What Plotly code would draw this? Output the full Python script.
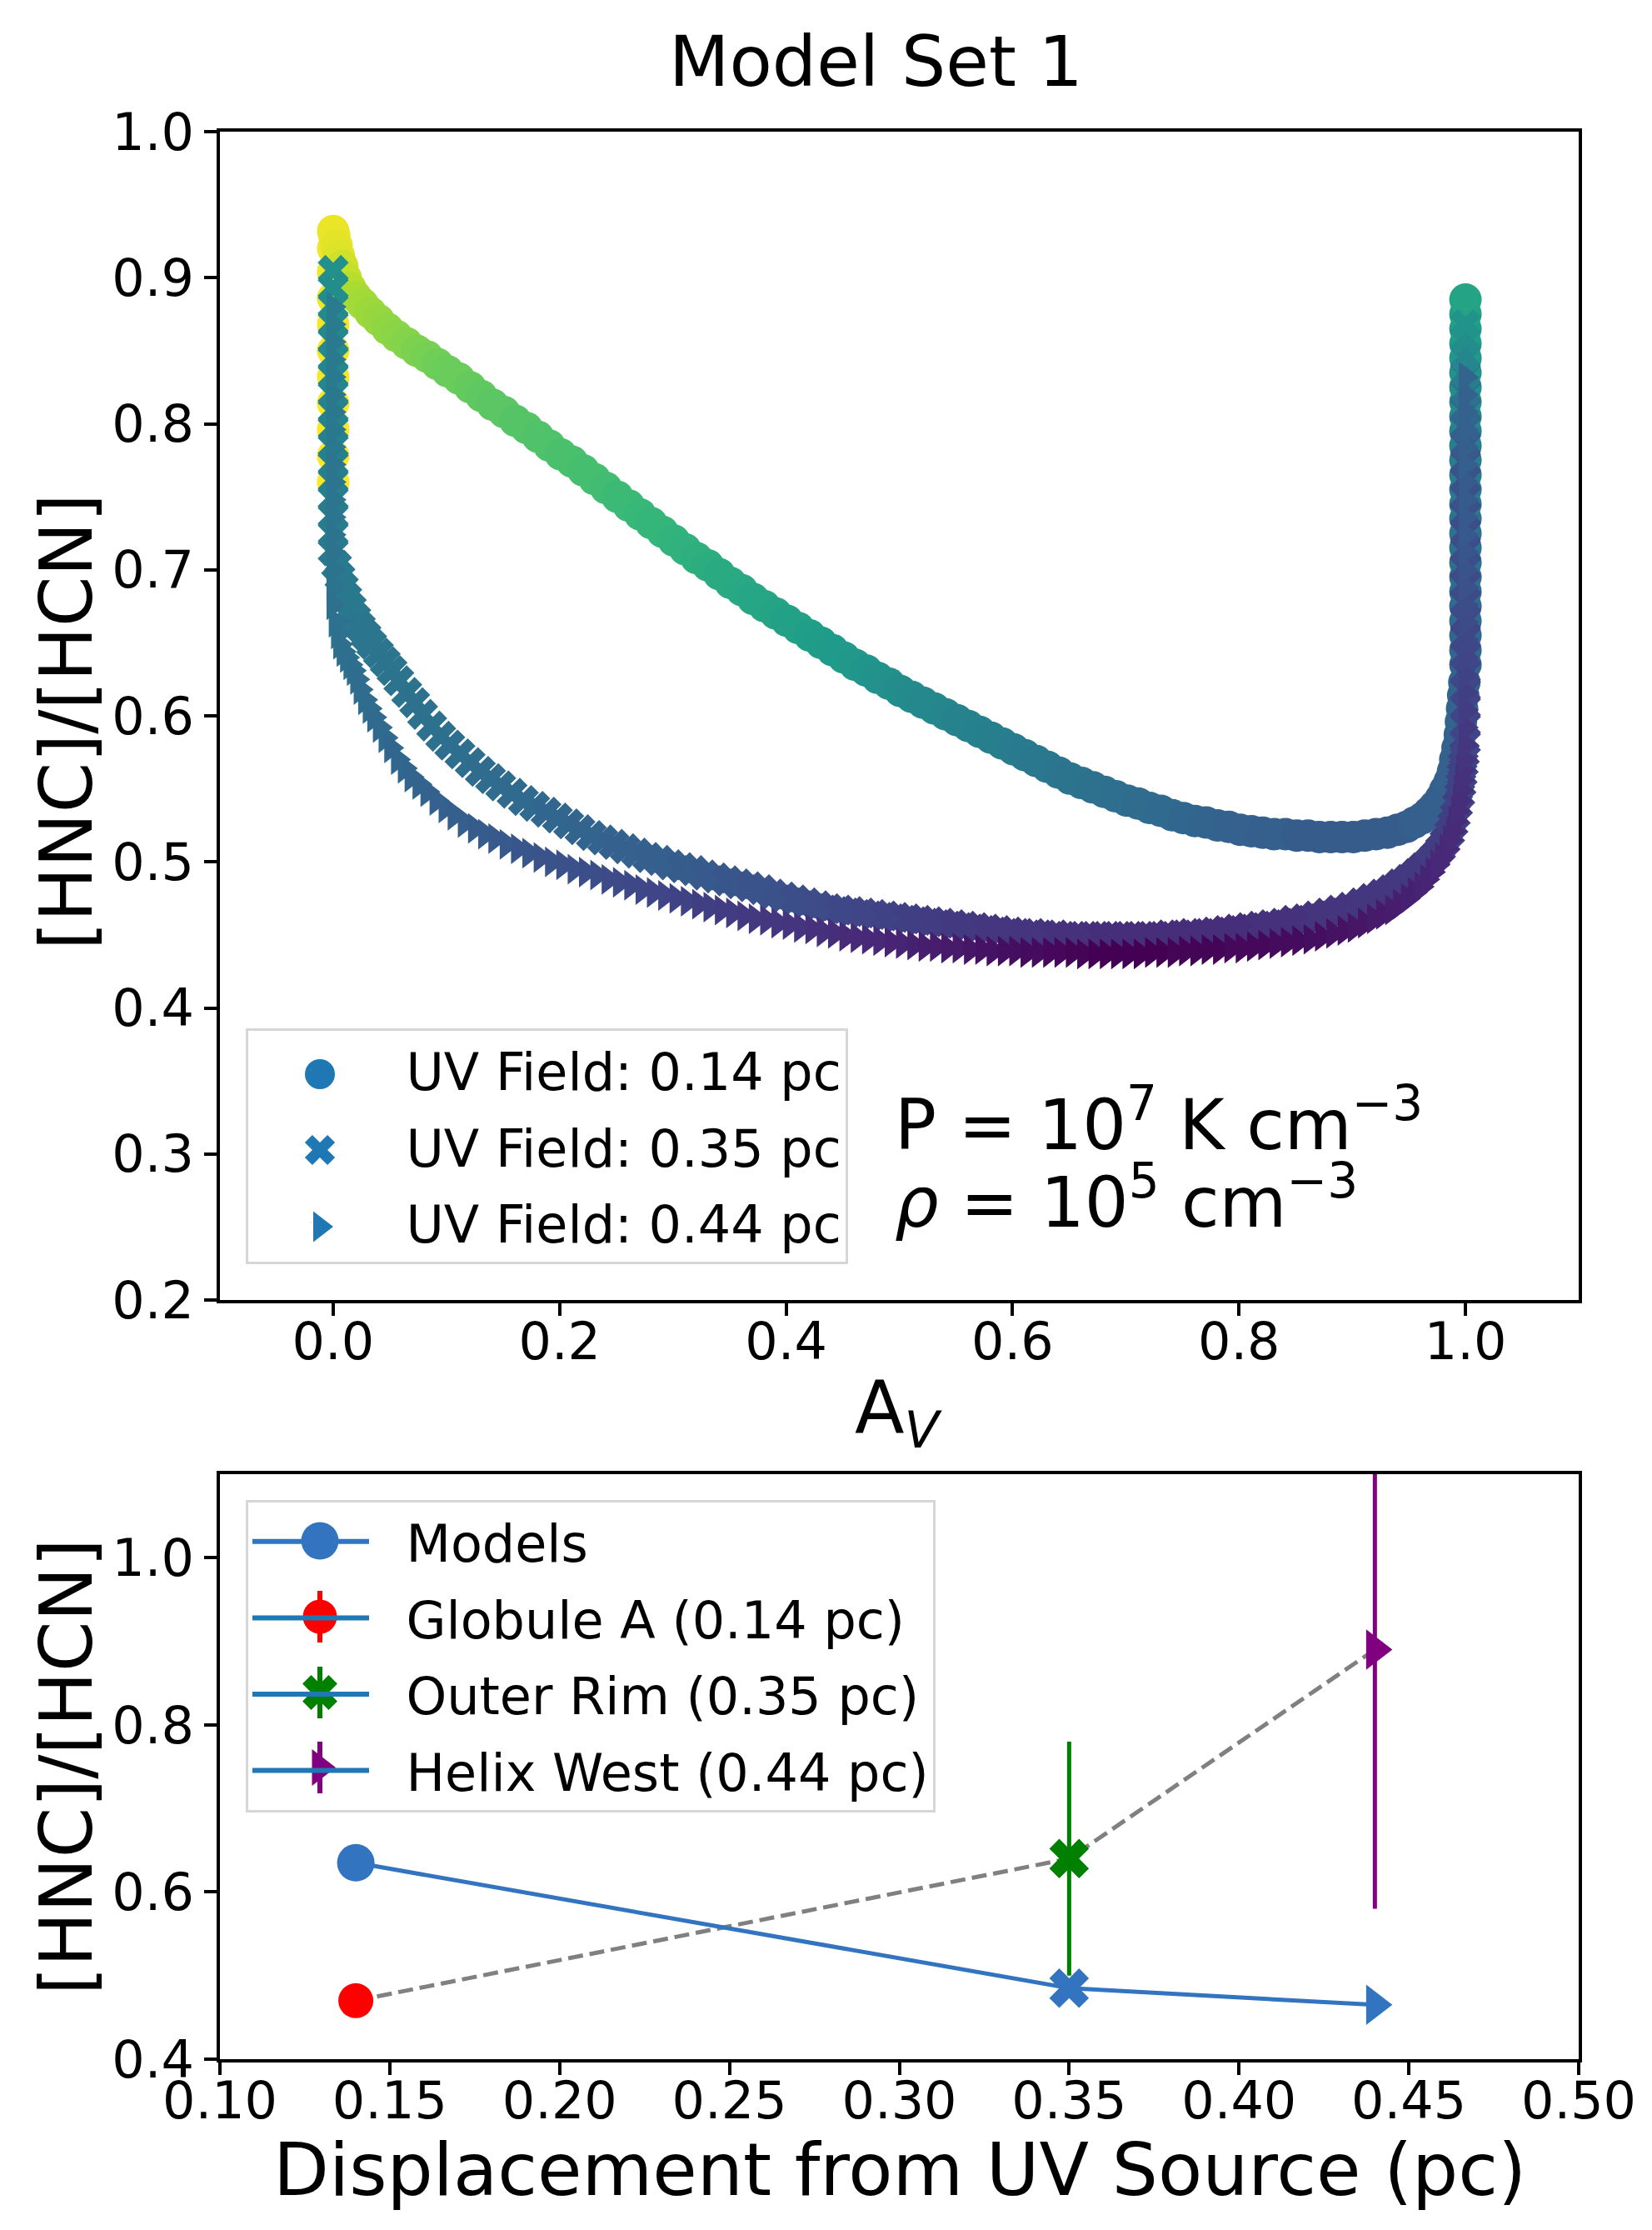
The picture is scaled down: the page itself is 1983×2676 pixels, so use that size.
import plotly.graph_objects as go

# ---- top panel: HNC/HCN ratio vs A_V, three UV-field models ----
# circles: UV Field 0.14 pc
circ_av = ([0.0] * 11 +
           [0.001, 0.003, 0.005, 0.008, 0.011, 0.015, 0.020, 0.026, 0.033, 0.040,
            0.048, 0.056, 0.065, 0.074, 0.083, 0.092, 0.101, 0.111, 0.121, 0.131,
            0.141, 0.151, 0.161, 0.171, 0.181, 0.191, 0.201, 0.211, 0.221, 0.231,
            0.241, 0.251, 0.261, 0.271, 0.281, 0.291, 0.301, 0.311, 0.321, 0.331,
            0.341, 0.351, 0.361, 0.371, 0.381, 0.391, 0.401, 0.411, 0.421, 0.431,
            0.441, 0.451, 0.461, 0.471, 0.481, 0.491, 0.501, 0.511, 0.521, 0.531,
            0.541, 0.551, 0.561, 0.571, 0.581, 0.591, 0.601, 0.611, 0.621, 0.631,
            0.641, 0.651, 0.661, 0.671, 0.681, 0.691, 0.701, 0.711, 0.721, 0.731,
            0.741, 0.751, 0.761, 0.771, 0.781, 0.791, 0.801, 0.811, 0.821, 0.831,
            0.841, 0.851, 0.861, 0.871, 0.881, 0.891, 0.901, 0.911, 0.921, 0.931,
            0.940, 0.948, 0.955, 0.962, 0.968, 0.973, 0.978, 0.982, 0.986, 0.989,
            0.991, 0.993, 0.995, 0.996, 0.997, 0.998, 0.999] +
           [1.0] * 26)
circ_ratio = ([0.760, 0.778, 0.796, 0.814, 0.832, 0.850, 0.868, 0.886, 0.904, 0.920, 0.932] +
              [0.929, 0.922, 0.915, 0.908, 0.900, 0.893, 0.887, 0.882, 0.876, 0.871,
               0.865, 0.860, 0.855, 0.850, 0.846, 0.841, 0.836, 0.831, 0.825, 0.819,
               0.813, 0.808, 0.802, 0.797, 0.791, 0.785, 0.779, 0.774, 0.768, 0.762,
               0.756, 0.750, 0.744, 0.738, 0.732, 0.726, 0.720, 0.714, 0.708, 0.703,
               0.697, 0.691, 0.686, 0.680, 0.675, 0.670, 0.665, 0.660, 0.655, 0.650,
               0.645, 0.640, 0.635, 0.631, 0.626, 0.622, 0.617, 0.613, 0.609, 0.605,
               0.601, 0.597, 0.593, 0.589, 0.585, 0.581, 0.577, 0.573, 0.569, 0.565,
               0.561, 0.557, 0.554, 0.551, 0.548, 0.545, 0.542, 0.540, 0.537, 0.535,
               0.532, 0.530, 0.528, 0.527, 0.525, 0.524, 0.522, 0.521, 0.520, 0.519,
               0.519, 0.518, 0.518, 0.517, 0.517, 0.517, 0.517, 0.518, 0.519, 0.520,
               0.522, 0.524, 0.527, 0.530, 0.534, 0.538, 0.543, 0.549, 0.555, 0.562,
               0.570, 0.578, 0.587, 0.596, 0.605, 0.614, 0.623] +
              [0.635, 0.645, 0.655, 0.665, 0.675, 0.685, 0.695, 0.705, 0.715, 0.725,
               0.735, 0.745, 0.755, 0.765, 0.775, 0.785, 0.795, 0.805, 0.815, 0.825,
               0.835, 0.845, 0.855, 0.865, 0.875, 0.885])
circ_c = ([1.0, 1.0, 1.0, 1.0, 0.99, 0.99, 0.99, 0.98, 0.98, 0.98, 0.97] +
          [0.97, 0.96, 0.95, 0.93, 0.91, 0.89, 0.87, 0.86, 0.85, 0.84,
           0.83, 0.82, 0.81, 0.80, 0.79, 0.78, 0.77, 0.77, 0.76, 0.75,
           0.74, 0.74, 0.73, 0.73, 0.72, 0.72, 0.71, 0.71, 0.70, 0.70,
           0.69, 0.68, 0.68, 0.67, 0.66, 0.66, 0.65, 0.64, 0.63, 0.62,
           0.61, 0.61, 0.60, 0.59, 0.59, 0.58, 0.57, 0.57, 0.56, 0.55,
           0.54, 0.54, 0.53, 0.52, 0.51, 0.50, 0.49, 0.48, 0.47, 0.47,
           0.46, 0.45, 0.45, 0.44, 0.43, 0.43, 0.42, 0.41, 0.40, 0.40,
           0.39, 0.38, 0.38, 0.37, 0.37, 0.36, 0.36, 0.35, 0.35, 0.34,
           0.34, 0.33, 0.33, 0.32, 0.32, 0.31, 0.31, 0.31, 0.30, 0.30,
           0.30, 0.29, 0.29, 0.29, 0.29, 0.29, 0.29, 0.29, 0.29, 0.29,
           0.29, 0.29, 0.30, 0.30, 0.30, 0.30, 0.30, 0.30, 0.31, 0.31,
           0.31, 0.31, 0.31, 0.32, 0.32, 0.32, 0.32] +
          [0.32, 0.33, 0.33, 0.34, 0.34, 0.35, 0.35, 0.36, 0.37, 0.37,
           0.38, 0.39, 0.40, 0.41, 0.42, 0.43, 0.44, 0.46, 0.47, 0.49,
           0.51, 0.53, 0.55, 0.56, 0.57, 0.58])

# crosses: UV Field 0.35 pc
cross_av = ([0.0] * 17 +
            [0.003, 0.006, 0.009, 0.012, 0.016, 0.020, 0.024, 0.029, 0.034, 0.040,
             0.046, 0.052, 0.058, 0.065, 0.072, 0.079, 0.087, 0.095, 0.103, 0.112,
             0.121, 0.130, 0.139, 0.148, 0.158, 0.168, 0.178, 0.188, 0.198, 0.208,
             0.218, 0.228, 0.238, 0.248, 0.258, 0.268, 0.278, 0.288, 0.298, 0.308,
             0.318, 0.328, 0.338, 0.348, 0.358, 0.368, 0.378, 0.388, 0.398, 0.408,
             0.418, 0.428, 0.438, 0.448, 0.458, 0.468, 0.478, 0.488, 0.498, 0.508,
             0.518, 0.528, 0.538, 0.548, 0.558, 0.568, 0.578, 0.588, 0.598, 0.608,
             0.618, 0.628, 0.638, 0.648, 0.658, 0.668, 0.678, 0.688, 0.698, 0.708,
             0.718, 0.728, 0.738, 0.748, 0.758, 0.768, 0.778, 0.788, 0.798, 0.808,
             0.818, 0.828, 0.838, 0.848, 0.858, 0.868, 0.878, 0.888, 0.898, 0.908,
             0.917, 0.926, 0.934, 0.942, 0.949, 0.956, 0.962, 0.968, 0.973, 0.978,
             0.982, 0.986, 0.989, 0.991, 0.993, 0.995, 0.996, 0.997, 0.998, 0.999] +
            [1.0] * 25)
cross_ratio = ([0.905, 0.893, 0.881, 0.869, 0.857, 0.845, 0.833, 0.821, 0.809, 0.797,
                0.785, 0.773, 0.761, 0.749, 0.737, 0.725, 0.713] +
               [0.703, 0.695, 0.688, 0.681, 0.674, 0.667, 0.661, 0.655, 0.649, 0.643,
                0.637, 0.631, 0.624, 0.616, 0.609, 0.601, 0.593, 0.586, 0.580, 0.574,
                0.568, 0.562, 0.557, 0.552, 0.547, 0.542, 0.538, 0.534, 0.530, 0.526,
                0.522, 0.518, 0.515, 0.512, 0.509, 0.506, 0.503, 0.501, 0.498, 0.496,
                0.494, 0.491, 0.489, 0.487, 0.485, 0.483, 0.481, 0.478, 0.476, 0.474,
                0.472, 0.470, 0.468, 0.467, 0.466, 0.465, 0.464, 0.463, 0.462, 0.461,
                0.460, 0.459, 0.458, 0.457, 0.456, 0.455, 0.454, 0.453, 0.452, 0.451,
                0.451, 0.450, 0.450, 0.449, 0.449, 0.449, 0.449, 0.449, 0.449, 0.449,
                0.449, 0.449, 0.450, 0.450, 0.451, 0.451, 0.452, 0.453, 0.454, 0.455,
                0.456, 0.457, 0.458, 0.460, 0.461, 0.463, 0.465, 0.467, 0.469, 0.472,
                0.475, 0.478, 0.481, 0.485, 0.488, 0.492, 0.496, 0.500, 0.504, 0.509,
                0.514, 0.520, 0.526, 0.532, 0.539, 0.546, 0.553, 0.560, 0.567, 0.574] +
               [0.582, 0.594, 0.606, 0.618, 0.630, 0.642, 0.654, 0.666, 0.678, 0.690,
                0.702, 0.714, 0.726, 0.738, 0.750, 0.762, 0.774, 0.786, 0.798, 0.810,
                0.822, 0.834, 0.846, 0.858, 0.868])
cross_c = ([0.50, 0.49, 0.49, 0.48, 0.47, 0.47, 0.46, 0.46, 0.45, 0.45,
            0.44, 0.44, 0.43, 0.43, 0.42, 0.42, 0.41] +
           [0.41, 0.41, 0.40, 0.40, 0.40, 0.40, 0.39, 0.39, 0.39, 0.39,
            0.38, 0.38, 0.38, 0.38, 0.37, 0.37, 0.37, 0.37, 0.36, 0.36,
            0.36, 0.35, 0.35, 0.35, 0.34, 0.34, 0.34, 0.33, 0.33, 0.33,
            0.32, 0.32, 0.32, 0.31, 0.31, 0.31, 0.30, 0.30, 0.30, 0.29,
            0.29, 0.28, 0.28, 0.27, 0.27, 0.26, 0.26, 0.25, 0.25, 0.24,
            0.24, 0.23, 0.23, 0.22, 0.22, 0.21, 0.21, 0.20, 0.20, 0.19,
            0.19, 0.18, 0.18, 0.17, 0.17, 0.17, 0.16, 0.16, 0.16, 0.15,
            0.15, 0.15, 0.14, 0.14, 0.14, 0.14, 0.13, 0.13, 0.13, 0.13,
            0.13, 0.13, 0.13, 0.13, 0.13, 0.13, 0.13, 0.13, 0.13, 0.13,
            0.14, 0.14, 0.14, 0.14, 0.14, 0.15, 0.15, 0.15, 0.15, 0.16,
            0.16, 0.16, 0.16, 0.17, 0.17, 0.17, 0.17, 0.18, 0.18, 0.18,
            0.18, 0.19, 0.19, 0.19, 0.19, 0.20, 0.20, 0.20, 0.20, 0.20] +
           [0.21, 0.21, 0.21, 0.21, 0.22, 0.22, 0.22, 0.22, 0.23, 0.23,
            0.23, 0.24, 0.24, 0.24, 0.25, 0.25, 0.26, 0.28, 0.30, 0.33,
            0.37, 0.42, 0.46, 0.49, 0.51])

# triangles: UV Field 0.44 pc
tri_av = ([0.0] * 18 +
          [0.002, 0.004, 0.006, 0.009, 0.012, 0.015, 0.018, 0.021, 0.024, 0.028,
           0.032, 0.036, 0.041, 0.046, 0.051, 0.057, 0.063, 0.069, 0.076, 0.083,
           0.091, 0.099, 0.107, 0.116, 0.125, 0.134, 0.143, 0.153, 0.163, 0.173,
           0.183, 0.193, 0.203, 0.213, 0.223, 0.233, 0.243, 0.253, 0.263, 0.273,
           0.283, 0.293, 0.303, 0.313, 0.323, 0.333, 0.343, 0.353, 0.363, 0.373,
           0.383, 0.393, 0.403, 0.413, 0.423, 0.433, 0.443, 0.453, 0.463, 0.473,
           0.483, 0.493, 0.503, 0.513, 0.523, 0.533, 0.543, 0.553, 0.563, 0.573,
           0.583, 0.593, 0.603, 0.613, 0.623, 0.633, 0.643, 0.653, 0.663, 0.673,
           0.683, 0.693, 0.703, 0.713, 0.723, 0.733, 0.743, 0.753, 0.763, 0.773,
           0.783, 0.793, 0.803, 0.813, 0.823, 0.833, 0.843, 0.853, 0.863, 0.873,
           0.883, 0.893, 0.902, 0.911, 0.919, 0.927, 0.935, 0.942, 0.949, 0.955,
           0.961, 0.966, 0.971, 0.975, 0.979, 0.983, 0.986, 0.989, 0.991, 0.993,
           0.995, 0.996, 0.997, 0.998, 0.999] +
          [1.0] * 22)
tri_ratio = ([0.880, 0.868, 0.856, 0.844, 0.832, 0.820, 0.808, 0.796, 0.784, 0.772,
              0.760, 0.748, 0.736, 0.724, 0.712, 0.700, 0.688, 0.676] +
             [0.664, 0.656, 0.649, 0.644, 0.640, 0.635, 0.631, 0.625, 0.618, 0.611,
              0.605, 0.599, 0.592, 0.585, 0.578, 0.570, 0.564, 0.558, 0.553, 0.548,
              0.542, 0.537, 0.532, 0.527, 0.523, 0.519, 0.516, 0.512, 0.509, 0.506,
              0.503, 0.500, 0.498, 0.495, 0.493, 0.491, 0.488, 0.486, 0.484, 0.481,
              0.479, 0.477, 0.475, 0.473, 0.471, 0.469, 0.467, 0.465, 0.463, 0.461,
              0.460, 0.458, 0.457, 0.455, 0.454, 0.452, 0.451, 0.449, 0.448, 0.447,
              0.446, 0.445, 0.444, 0.443, 0.442, 0.442, 0.441, 0.441, 0.440, 0.440,
              0.439, 0.439, 0.439, 0.438, 0.438, 0.438, 0.438, 0.438, 0.437, 0.437,
              0.437, 0.437, 0.437, 0.437, 0.438, 0.438, 0.438, 0.439, 0.439, 0.440,
              0.440, 0.441, 0.441, 0.442, 0.443, 0.444, 0.445, 0.446, 0.447, 0.449,
              0.451, 0.453, 0.455, 0.458, 0.461, 0.464, 0.467, 0.471, 0.475, 0.479,
              0.483, 0.488, 0.493, 0.498, 0.503, 0.509, 0.515, 0.521, 0.528, 0.535,
              0.542, 0.549, 0.556, 0.563, 0.570] +
             [0.580, 0.592, 0.604, 0.616, 0.628, 0.640, 0.652, 0.664, 0.676, 0.688,
              0.700, 0.712, 0.724, 0.736, 0.748, 0.760, 0.772, 0.784, 0.796, 0.808,
              0.820, 0.832])
tri_c = ([0.42, 0.42, 0.41, 0.41, 0.41, 0.40, 0.40, 0.40, 0.40, 0.39,
          0.39, 0.39, 0.39, 0.38, 0.38, 0.38, 0.38, 0.37] +
         [0.37, 0.37, 0.37, 0.36, 0.36, 0.36, 0.36, 0.35, 0.35, 0.35,
          0.35, 0.34, 0.34, 0.34, 0.33, 0.33, 0.33, 0.32, 0.32, 0.32,
          0.31, 0.31, 0.30, 0.30, 0.29, 0.29, 0.28, 0.28, 0.27, 0.27,
          0.26, 0.26, 0.25, 0.25, 0.24, 0.24, 0.23, 0.23, 0.22, 0.22,
          0.21, 0.21, 0.20, 0.20, 0.19, 0.19, 0.18, 0.18, 0.17, 0.17,
          0.16, 0.16, 0.15, 0.15, 0.14, 0.14, 0.13, 0.12, 0.12, 0.11,
          0.11, 0.10, 0.10, 0.09, 0.08, 0.08, 0.07, 0.07, 0.06, 0.05,
          0.05, 0.04, 0.04, 0.03, 0.03, 0.02, 0.02, 0.01, 0.01, 0.00,
          0.00, 0.00, 0.00, 0.00, 0.00, 0.00, 0.01, 0.01, 0.01, 0.01,
          0.01, 0.02, 0.02, 0.02, 0.02, 0.03, 0.03, 0.03, 0.04, 0.04,
          0.05, 0.05, 0.06, 0.06, 0.07, 0.07, 0.08, 0.08, 0.09, 0.09,
          0.10, 0.10, 0.10, 0.11, 0.11, 0.11, 0.12, 0.12, 0.12, 0.13,
          0.13, 0.13, 0.14, 0.14, 0.15] +
         [0.16, 0.17, 0.18, 0.19, 0.20, 0.21, 0.22, 0.23, 0.24, 0.25,
          0.26, 0.27, 0.28, 0.28, 0.29, 0.29, 0.30, 0.30, 0.31, 0.31,
          0.31, 0.32])

uv_labels = ["UV Field: 0.14 pc", "UV Field: 0.35 pc", "UV Field: 0.44 pc"]

# ---- bottom panel: models vs observations ----
disp_pc = [0.14, 0.35, 0.44]
model_ratio = [0.635, 0.485, 0.465]
obs_names = ["Globule A (0.14 pc)", "Outer Rim (0.35 pc)", "Helix West (0.44 pc)"]
obs_ratio = [0.47, 0.64, 0.89]
obs_err = [0.015, 0.14, 0.31]

FONT = "DejaVu Sans"
SYMBOLS = ["circle", "x", "triangle-right"]
TAB_BLUE = "#1f77b4"
MODEL_BLUE = "#3274bf"
OBS_COLORS = ["red", "green", "purple"]
PAD = "\u00a0\u00a0"
W, H = 1983, 2676
# panel boxes in figure pixels: left, right, top, bottom
TOP_BOX = (256, 1887, 150, 1552)
BOT_BOX = (256, 1887, 1761, 2463)

fig = go.Figure()

sizes = [39, 33, 32]
series = [(circ_av, circ_ratio, circ_c), (cross_av, cross_ratio, cross_c),
          (tri_av, tri_ratio, tri_c)]
for (av, ratio, c), sym, sz in zip(series, SYMBOLS, sizes):
    assert len(av) == len(ratio) == len(c), (len(av), len(ratio), len(c))
    fig.add_trace(go.Scatter(
        x=av, y=ratio, mode="markers", showlegend=False, hoverinfo="skip",
        marker=dict(symbol=sym, size=sz, color=c, colorscale="Viridis",
                    cmin=0, cmax=1, opacity=1, line=dict(width=0)),
        xaxis="x", yaxis="y"))

# bottom panel
fig.add_trace(go.Scatter(
    x=disp_pc, y=obs_ratio, mode="lines", showlegend=False, hoverinfo="skip",
    line=dict(color="gray", width=5, dash="18px,8px"),
    xaxis="x2", yaxis="y2"))

for i, col in enumerate(OBS_COLORS):
    fig.add_trace(go.Scatter(
        x=[disp_pc[i]], y=[obs_ratio[i]], mode="markers", showlegend=False,
        marker=dict(symbol=SYMBOLS[i], size=42, color=col, opacity=1,
                    line=dict(width=0)),
        error_y=dict(type="data", array=[obs_err[i]], color=col,
                     thickness=5, width=0),
        xaxis="x2", yaxis="y2"))

fig.add_trace(go.Scatter(
    x=disp_pc, y=model_ratio, mode="lines+markers", showlegend=False,
    marker=dict(symbol=SYMBOLS, size=[45, 42, 42], color=MODEL_BLUE,
                opacity=1, line=dict(width=0)),
    line=dict(color=MODEL_BLUE, width=5),
    xaxis="x2", yaxis="y2"))

# ---- legends: plotly caps legend symbols at 16px, so the text/lines come
# from the legend and the full-size key markers sit on pixel overlay axes
for lab in uv_labels:
    fig.add_trace(go.Scatter(
        x=[None], y=[None], mode="markers", name=PAD + lab, legend="legend",
        legendgroup=lab, marker=dict(size=1, opacity=0),
        xaxis="x", yaxis="y"))
for i, name in enumerate(["Models"] + obs_names):
    fig.add_trace(go.Scatter(
        x=[None], y=[None], mode="lines", name=PAD + name, legend="legend2",
        legendgroup=name,
        line=dict(color=MODEL_BLUE if i == 0 else TAB_BLUE, width=6),
        xaxis="x2", yaxis="y2"))

key_x = 376
top_key_y = [1281, 1372, 1464]
bot_key_y = [1841, 1932, 2023, 2113]
fig.add_trace(go.Scatter(
    x=[key_x] * 3, y=top_key_y, mode="markers", showlegend=False,
    hoverinfo="skip",
    marker=dict(symbol=SYMBOLS, size=[36, 32, 32], color=TAB_BLUE,
                opacity=1, line=dict(width=0)),
    xaxis="x3", yaxis="y3"))
fig.add_trace(go.Scatter(
    x=[key_x], y=bot_key_y[:1], mode="markers", showlegend=False,
    hoverinfo="skip",
    marker=dict(symbol="circle", size=45, color=MODEL_BLUE, opacity=1,
                line=dict(width=0)),
    xaxis="x4", yaxis="y4"))
for i, col in enumerate(OBS_COLORS):
    fig.add_trace(go.Scatter(
        x=[key_x], y=[bot_key_y[i + 1]], mode="markers", showlegend=False,
        hoverinfo="skip",
        marker=dict(symbol=SYMBOLS[i], size=[41, 37, 38][i], color=col,
                    opacity=1, line=dict(width=0)),
        error_y=dict(type="constant", value=31, color=col, thickness=6, width=0),
        xaxis="x4", yaxis="y4"))

axis_common = dict(
    showline=True, mirror=True, linecolor="black", linewidth=3.5,
    ticks="outside", ticklen=15, tickwidth=3.5, tickcolor="black",
    showgrid=False, zeroline=False, automargin=False,
    tickfont=dict(family=FONT, size=62, color="black"),
)
legend_common = dict(
    x=287 / W, xanchor="left", yanchor="top",
    bgcolor="rgba(255,255,255,0)", bordercolor="#d6d6d6", borderwidth=3,
    font=dict(family=FONT, size=62, color="black"),
    tracegroupgap=8, itemwidth=140,
)
hidden = dict(visible=False, fixedrange=True, showgrid=False, zeroline=False)

fig.update_layout(
    width=W, height=H,
    margin=dict(l=0, r=0, t=0, b=0, autoexpand=False),
    paper_bgcolor="white", plot_bgcolor="white",
    font=dict(family=FONT, color="black"),
    xaxis=dict(domain=[TOP_BOX[0] / W, TOP_BOX[1] / W], range=[-0.1, 1.1],
               tickvals=[0.0, 0.2, 0.4, 0.6, 0.8, 1.0], tickformat=".1f",
               ticklabelstandoff=-22, anchor="y", **axis_common),
    yaxis=dict(domain=[1 - TOP_BOX[3] / H, 1 - TOP_BOX[2] / H], range=[0.2, 1.0],
               dtick=0.1, tickformat=".1f", anchor="x", **axis_common),
    xaxis2=dict(domain=[BOT_BOX[0] / W, BOT_BOX[1] / W], range=[0.1, 0.5],
                dtick=0.05, tickformat=".2f", ticklabelstandoff=-22,
                anchor="y2", **axis_common),
    yaxis2=dict(domain=[1 - BOT_BOX[3] / H, 1 - BOT_BOX[2] / H], range=[0.4, 1.1],
                tickvals=[0.4, 0.6, 0.8, 1.0], tickformat=".1f",
                anchor="x2", **axis_common),
    # pixel overlays on each panel, used only for the legend keys
    xaxis3=dict(overlaying="x", range=[TOP_BOX[0], TOP_BOX[1]], anchor="y3", **hidden),
    yaxis3=dict(overlaying="y", range=[TOP_BOX[3], TOP_BOX[2]], anchor="x3", **hidden),
    xaxis4=dict(overlaying="x2", range=[BOT_BOX[0], BOT_BOX[1]], anchor="y4", **hidden),
    yaxis4=dict(overlaying="y2", range=[BOT_BOX[3], BOT_BOX[2]], anchor="x4", **hidden),
    legend=dict(y=1 - 1226 / H, **legend_common),
    legend2=dict(y=1 - 1792 / H, **legend_common),
)

big = dict(family=FONT, size=87, color="black")
ann = [
    dict(text="Model Set 1", x=1043 / W, y=1 - 66 / H, font=dict(family=FONT, size=84, color="black")),
    dict(text="[HNC]/[HCN]", x=72 / W, y=1 - 858 / H, textangle=-90, font=big),
    dict(text="[HNC]/[HCN]", x=72 / W, y=1 - 2112 / H, textangle=-90, font=big),
    dict(text="A<sub><i>V</i></sub>", x=1071 / W, y=1 - 1686 / H, font=big),
    dict(text="Displacement from UV Source (pc)", x=1072 / W, y=1 - 2596 / H, font=big),
    dict(text="P = 10<sup>7</sup> K cm<sup>−3</sup>", x=1064 / W, y=1 - 1336 / H,
         xanchor="left", font=dict(family=FONT, size=83, color="black")),
    dict(text="<i>ρ</i> = 10<sup>5</sup> cm<sup>−3</sup>", x=1064 / W, y=1 - 1429 / H,
         xanchor="left", font=dict(family=FONT, size=83, color="black")),
]
for a in ann:
    a.setdefault("xanchor", "center")
    fig.add_annotation(xref="paper", yref="paper", yanchor="middle",
                       showarrow=False, **a)

fig.write_html("out.html")
